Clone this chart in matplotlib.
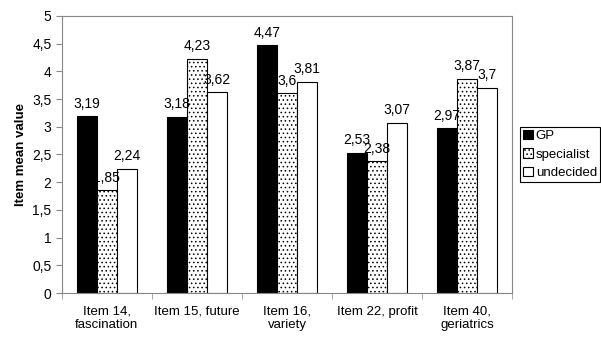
import matplotlib
matplotlib.use('Agg')
import matplotlib.pyplot as plt
import numpy as np

categories = ['Item 14,\nfascination', 'Item 15, future', 'Item 16,\nvariety',
              'Item 22, profit', 'Item 40,\ngeriatrics']
gp = [3.19, 3.18, 4.47, 2.53, 2.97]
specialist = [1.85, 4.23, 3.6, 2.38, 3.87]
undecided = [2.24, 3.62, 3.81, 3.07, 3.7]
yticks = [0, 0.5, 1, 1.5, 2, 2.5, 3, 3.5, 4, 4.5, 5]

plt.rcParams['font.family'] = ['Liberation Sans', 'DejaVu Sans']
plt.rcParams['hatch.linewidth'] = 0.6

def fmt(v):
    return ('%g' % v).replace('.', ',')

fig = plt.figure(figsize=(6.01, 3.38), dpi=100)
ax = fig.add_axes([0.103, 0.133, 0.749, 0.82])

x = np.arange(len(categories))
w = 0.222
b1 = ax.bar(x - w, gp, w, color='black', edgecolor='black', linewidth=0.8, label='GP')
b2 = ax.bar(x, specialist, w, color='white', edgecolor='black', linewidth=0.8,
            hatch='....', label='specialist')
b3 = ax.bar(x + w, undecided, w, color='white', edgecolor='black', linewidth=0.8,
            label='undecided')

for bars, vals in [(b1, gp), (b2, specialist), (b3, undecided)]:
    for r, v in zip(bars, vals):
        ax.text(r.get_x() + r.get_width() / 2, v + 0.1, fmt(v),
                ha='center', va='bottom', fontsize=10)

ax.set_xlim(-0.5, len(categories) - 0.5)
ax.set_ylim(0, 5)
ax.set_yticks(yticks)
ax.set_yticklabels([fmt(t) for t in yticks], fontsize=10)
ax.set_xticks(x)
ax.set_xticklabels(categories, fontsize=9.5, linespacing=1.15)
ax.tick_params(axis='x', length=0, pad=9)
ax.set_xticks(np.arange(len(categories) + 1) - 0.5, minor=True)
ax.tick_params(axis='x', which='minor', length=4, color='#999999')
ax.tick_params(axis='y', length=4, color='#888888')
for s in ax.spines.values():
    s.set_color('#888888')
ax.set_ylabel('Item mean value', fontsize=9.5, fontweight='bold')

leg = ax.legend(loc='center left', bbox_to_anchor=(1.0, 0.5), fontsize=9.5,
                fancybox=False, edgecolor='black', framealpha=1,
                handlelength=0.7, handleheight=0.7, handletextpad=0.25,
                borderpad=0.25, labelspacing=0.45, borderaxespad=0.6)
leg.get_frame().set_linewidth(0.8)

fig.savefig('out.png', dpi=100)
